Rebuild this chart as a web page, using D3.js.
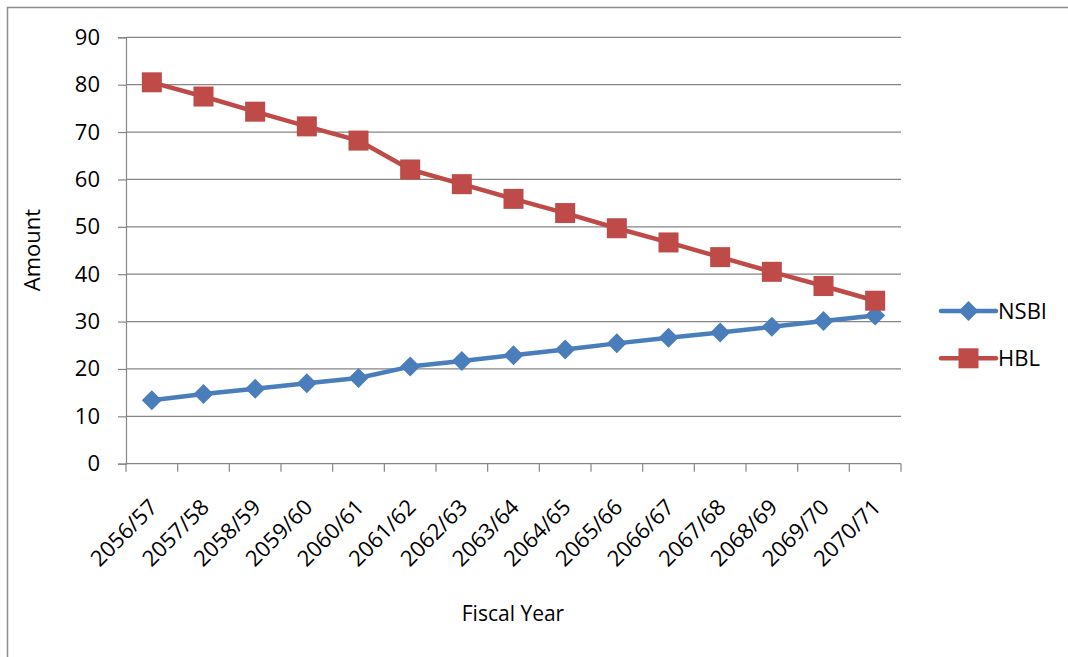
<!DOCTYPE html>
<html>
<head>
<meta charset="utf-8">
<script src="https://cdn.jsdelivr.net/npm/d3@7"></script>
<style>
  body { margin: 0; background: #fff; }
  text { font-family: "Open Sans", "Noto Sans", sans-serif; fill: #000; }
</style>
</head>
<body>
<div id="chart"></div>
<script>
(function () {

  var years = ["2056/57", "2057/58", "2058/59", "2059/60", "2060/61", "2061/62", "2062/63",
      "2063/64", "2064/65", "2065/66", "2066/67", "2067/68", "2068/69", "2069/70", "2070/71"],
    nsbi = [13.4, 14.7, 15.8, 17.0, 18.1, 20.5, 21.7, 22.9, 24.1, 25.4, 26.6, 27.7, 28.9, 30.1, 31.3],
    hbl = [80.5, 77.5, 74.3, 71.2, 68.2, 62.1, 59.0, 55.9, 52.9, 49.7, 46.7, 43.6, 40.5, 37.5, 34.4],
    yTicks = [0, 10, 20, 30, 40, 50, 60, 70, 80, 90],
    seriesNames = ["NSBI", "HBL"],
    // excel 2007 default palette
    colors = ["#4a7ebb", "#be4b48"],
    w = 1068,
    h = 657,
    plot = { left: 126, right: 901, top: 37.3, bottom: 463.7 },
    fontSize = "22px",
    svg, x, y;

  var series = [
    { name: seriesNames[0], values: nsbi, color: colors[0], shape: "diamond" },
    { name: seriesNames[1], values: hbl, color: colors[1], shape: "square" }
  ];

  svg = d3.select("#chart").append("svg")
    .attr("width", w)
    .attr("height", h);

  // chart border, only left and top are visible in the picture
  svg.append("rect")
    .attr("x", 7.5).attr("y", 7.5)
    .attr("width", w + 20).attr("height", h + 20)
    .attr("fill", "none")
    .attr("stroke", "#8c8c8c")
    .attr("stroke-width", 1.5);

  x = d3.scaleBand().domain(years).range([plot.left, plot.right]);
  y = d3.scaleLinear().domain([0, 90]).range([plot.bottom, plot.top]);

  // gridlines
  svg.append("g")
    .selectAll("line")
    .data(yTicks.filter(function (d) { return d > 0; }))
    .enter().append("line")
      .attr("x1", plot.left).attr("x2", plot.right)
      .attr("y1", function (d) { return y(d); })
      .attr("y2", function (d) { return y(d); })
      .attr("stroke", "#868686")
      .attr("stroke-width", 1.2);

  // y axis
  var yAxis = svg.append("g")
    .attr("transform", "translate(" + plot.left + ",0)")
    .call(d3.axisLeft(y).tickValues(yTicks).tickSize(8).tickPadding(18));
  yAxis.select(".domain").attr("stroke", "#868686").attr("stroke-width", 1.2);
  yAxis.selectAll(".tick line").attr("stroke", "#868686").attr("stroke-width", 1.2);
  yAxis.selectAll("text").style("font-size", fontSize).attr("font-family", null);

  // x axis: ticks between categories
  var xAxis = svg.append("g")
    .attr("transform", "translate(0," + plot.bottom + ")");
  xAxis.append("line")
    .attr("x1", plot.left).attr("x2", plot.right)
    .attr("stroke", "#868686").attr("stroke-width", 1.2);
  xAxis.selectAll(".tk")
    .data(years.concat(["end"]))
    .enter().append("line")
      .attr("class", "tk")
      .attr("x1", function (d, i) { return plot.left + i * x.step(); })
      .attr("x2", function (d, i) { return plot.left + i * x.step(); })
      .attr("y1", 0).attr("y2", 8)
      .attr("stroke", "#868686").attr("stroke-width", 1.2);
  xAxis.selectAll(".lbl")
    .data(years)
    .enter().append("text")
      .attr("class", "lbl")
      .attr("text-anchor", "end")
      .attr("transform", function (d) {
        return "translate(" + (x(d) + x.bandwidth() / 2 + 7) + ",45) rotate(-45)";
      })
      .style("font-size", fontSize)
      .text(function (d) { return d; });

  // axis titles
  svg.append("text")
    .attr("transform", "translate(40,250) rotate(-90)")
    .attr("text-anchor", "middle")
    .style("font-size", fontSize)
    .text("Amount");
  svg.append("text")
    .attr("x", 513).attr("y", 621)
    .attr("text-anchor", "middle")
    .style("font-size", "21px")
    .text("Fiscal Year");

  var line = d3.line()
    .x(function (d, i) { return x(years[i]) + x.bandwidth() / 2; })
    .y(function (d) { return y(d); });

  function marker(sel, s) {
    if (s.shape === "square") {
      sel.append("rect")
        .attr("x", -10).attr("y", -10)
        .attr("width", 20).attr("height", 20)
        .attr("fill", s.color);
    } else {
      sel.append("path")
        .attr("d", "M0,-10L10,0L0,10L-10,0Z")
        .attr("fill", s.color);
    }
  }

  series.forEach(function (s) {
    svg.append("path")
      .datum(s.values)
      .attr("d", line)
      .attr("fill", "none")
      .attr("stroke", s.color)
      .attr("stroke-width", 4.5)
      .attr("stroke-linejoin", "round");
    svg.append("g").selectAll("g")
      .data(s.values)
      .enter().append("g")
        .attr("transform", function (d, i) {
          return "translate(" + (x(years[i]) + x.bandwidth() / 2) + "," + y(d) + ")";
        })
        .each(function () { marker(d3.select(this), s); });
  });

  // legend
  var legend = svg.append("g").selectAll("g")
    .data(series)
    .enter().append("g")
      .attr("transform", function (d, i) { return "translate(941," + (311 + i * 47.3) + ")"; });
  legend.append("line")
    .attr("x1", 0).attr("x2", 55)
    .attr("stroke", function (d) { return d.color; })
    .attr("stroke-width", 4.5)
    .attr("stroke-linecap", "round");
  legend.append("g")
    .attr("transform", "translate(27.5,0)")
    .each(function (d) { marker(d3.select(this), d); });
  legend.append("text")
    .attr("x", 57).attr("dy", "0.35em")
    .style("font-size", fontSize)
    .text(function (d) { return d.name; });

})();
</script>
</body>
</html>
